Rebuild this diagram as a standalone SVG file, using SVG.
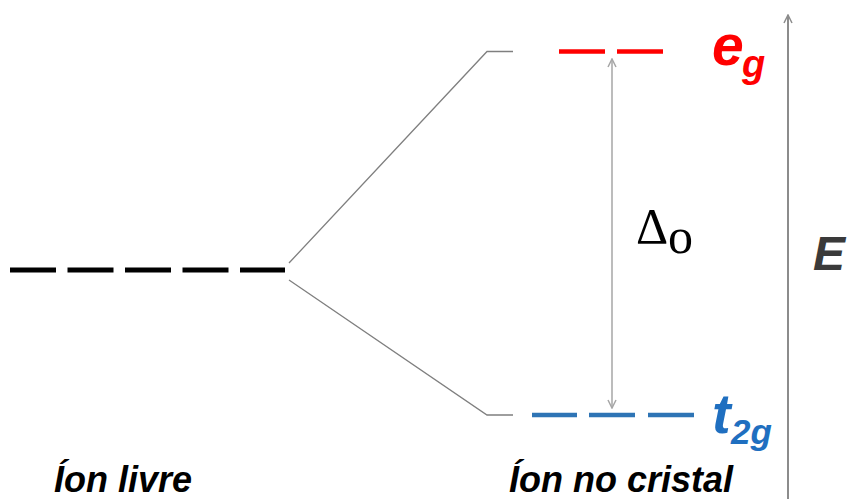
<svg xmlns="http://www.w3.org/2000/svg" width="849" height="499" viewBox="0 0 849 499">
<style>
.lbl{font-family:"Liberation Sans",Arial,sans-serif;font-weight:bold;font-style:italic}
.conn{stroke:#7f7f7f;stroke-width:1.3;fill:none}
.delta{font-family:"Liberation Serif","Times New Roman",serif;fill:#000}
</style>
<defs>
<marker id="chev" viewBox="0 0 10 10" refX="9" refY="5" markerWidth="10" markerHeight="10" markerUnits="userSpaceOnUse" orient="auto-start-reverse">
<path d="M1,1 L9,5 L1,9" fill="none" stroke="#a6a6a6" stroke-width="1.5"/>
</marker>
<marker id="chevAx" viewBox="0 0 10 10" refX="9" refY="5" markerWidth="10" markerHeight="10" markerUnits="userSpaceOnUse" orient="auto-start-reverse">
<path d="M1,1 L9,5 L1,9" fill="none" stroke="#8c8c8c" stroke-width="1.5"/>
</marker>
</defs>
<rect width="849" height="499" fill="#ffffff"/>
<g id="free-ion">
<line x1="10" y1="270" x2="285" y2="270" stroke="#000" stroke-width="5" stroke-dasharray="46 11.5"/>
</g>
<g id="eg-level">
<line x1="559" y1="51.5" x2="605" y2="51.5" stroke="#ff0000" stroke-width="4.5"/>
<line x1="617" y1="51.5" x2="663" y2="51.5" stroke="#ff0000" stroke-width="4.5"/>
<text class="lbl" x="712" y="65" font-size="57" fill="#ff0000">e</text>
<text class="lbl" x="742" y="77" font-size="38" fill="#ff0000">g</text>
</g>
<g id="t2g-level">
<line x1="532" y1="415" x2="577" y2="415" stroke="#2e74b5" stroke-width="4.5"/>
<line x1="589" y1="415" x2="635" y2="415" stroke="#2e74b5" stroke-width="4.5"/>
<line x1="648" y1="415" x2="694" y2="415" stroke="#2e74b5" stroke-width="4.5"/>
<text class="lbl" x="712" y="433" font-size="56" fill="#1f6fc0">t</text>
<text class="lbl" x="731" y="444" font-size="35" fill="#1f6fc0">2g</text>
</g>
<g id="delta-label">
<text class="delta" x="636" y="243" font-size="50">Δ</text>
<text class="delta" x="668" y="253" font-size="50">o</text>
</g>
<g id="energy-axis">
<line x1="788" y1="15" x2="788" y2="499" stroke="#8c8c8c" stroke-width="2" marker-start="url(#chevAx)"/>
<text class="lbl" x="813" y="270" font-size="48" fill="#3a3a3a">E</text>
</g>
<g id="bottom-labels">
<text class="lbl" x="54" y="492" font-size="36" fill="#000">Íon livre</text>
<text class="lbl" x="509" y="492" font-size="36" fill="#000">Íon no cristal</text>
</g>
<g id="connectors">
<polyline class="conn" points="289,263 487,51.5 513,51.5"/>
<polyline class="conn" points="289,280 487,415 513,415"/>
<line x1="612" y1="59" x2="612" y2="408" stroke="#a6a6a6" stroke-width="1.5" marker-start="url(#chev)" marker-end="url(#chev)"/>
</g>
</svg>
